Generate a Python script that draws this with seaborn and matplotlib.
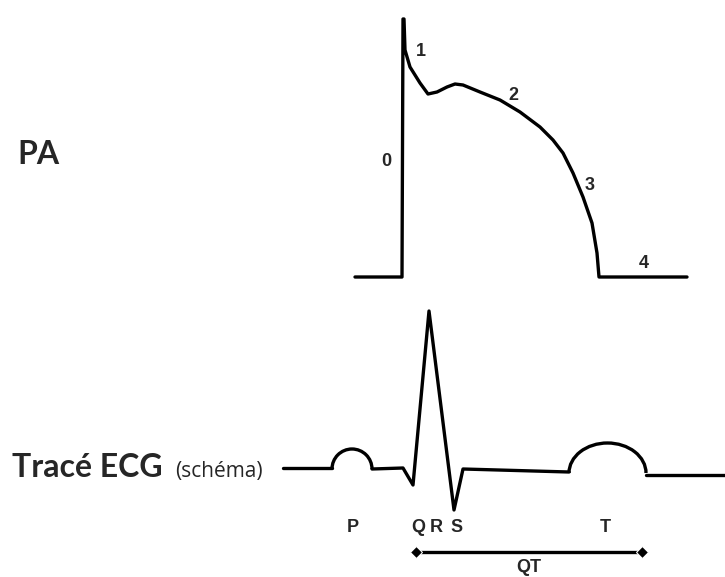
import matplotlib
matplotlib.use("Agg")
import matplotlib.pyplot as plt
from matplotlib.patches import Arc
import seaborn as sns
import pandas as pd

# Potentiel d'action (pixel coordinates, y downwards)
pa_x = [355, 402, 403, 404, 405, 410, 420, 428, 437, 447, 455, 463, 480, 500,
        520, 540, 553, 563, 573, 583, 592, 597, 599, 687]
pa_y = [277, 277, 19, 19, 50, 67, 83, 94, 92, 87, 84, 85, 92, 100,
        112, 127, 140, 153, 173, 197, 223, 253, 277, 277]
pa_phase_labels = ["0", "1", "2", "3", "4"]
pa_phase_x = [386, 421, 513, 590, 644]
pa_phase_y = [161, 52, 96, 185, 263]

# ECG trace (straight segments); P and T waves drawn as arcs
ecg_x = [283, 332, 372, 403, 413, 429, 454, 463, 569, 646, 725]
ecg_y = [468, 468, 469, 468, 485, 311, 510, 469, 472, 475, 475]
ecg_breaks = [(1, 2), (8, 9)]  # segments replaced by waves
wave_names = ["P", "T"]
wave_x0 = [332, 569]
wave_x1 = [372, 646]
wave_base = [469, 473]
wave_top = [449, 443]

ecg_labels = ["P", "Q", "R", "S", "T"]
ecg_label_x = [353, 418, 436, 457, 605]
label_y = 528
qt_x = [416, 642]
qt_y = 552

sns.set_style("white")
fig = plt.figure(figsize=(7.25, 5.77), dpi=100)
ax = fig.add_axes([0, 0, 1, 1])

pa = pd.DataFrame({"x": pa_x, "y": pa_y})
sns.lineplot(data=pa, x="x", y="y", sort=False, estimator=None,
             color="black", lw=2.4, ax=ax)

# ECG pieces between waves
cuts = [0] + [b for pair in ecg_breaks for b in pair] + [len(ecg_x) - 1]
for i in range(0, len(cuts), 2):
    seg = pd.DataFrame({"x": ecg_x[cuts[i]:cuts[i + 1] + 1],
                        "y": ecg_y[cuts[i]:cuts[i + 1] + 1]})
    sns.lineplot(data=seg, x="x", y="y", sort=False, estimator=None,
                 color="black", lw=2.4, ax=ax)

for x0, x1, base, top in zip(wave_x0, wave_x1, wave_base, wave_top):
    ax.add_patch(Arc(((x0 + x1) / 2, base), x1 - x0, 2 * (base - top),
                     theta1=180, theta2=360, color="black", lw=2.4))

for t, x, y in zip(pa_phase_labels, pa_phase_x, pa_phase_y):
    ax.text(x, y, t, fontsize=13, fontweight="bold", family="Liberation Sans",
            ha="center", va="center")

for t, x in zip(ecg_labels, ecg_label_x):
    ax.text(x, label_y, t, fontsize=13, fontweight="bold", family="Liberation Sans",
            ha="center", va="center")

sns.lineplot(x=qt_x, y=[qt_y, qt_y], color="black", lw=2.4, marker="D",
             markersize=6, ax=ax)
ax.text(sum(qt_x) / 2, 568, "QT", fontsize=13, fontweight="bold",
        family="Liberation Sans", ha="center", va="center")

ax.text(17, 154, "PA", fontsize=23, fontweight="bold", family="Lato",
        ha="left", va="center")
ax.text(12, 477, "Tracé ECG", fontsize=23, fontweight="bold", family="Lato",
        ha="left", va="baseline")
ax.text(175, 477, "(schéma)", fontsize=15, family="Open Sans", ha="left",
        va="baseline")

ax.set_xlim(0, 725)
ax.set_ylim(577, 0)
ax.axis("off")
fig.savefig("out.png", dpi=100)
